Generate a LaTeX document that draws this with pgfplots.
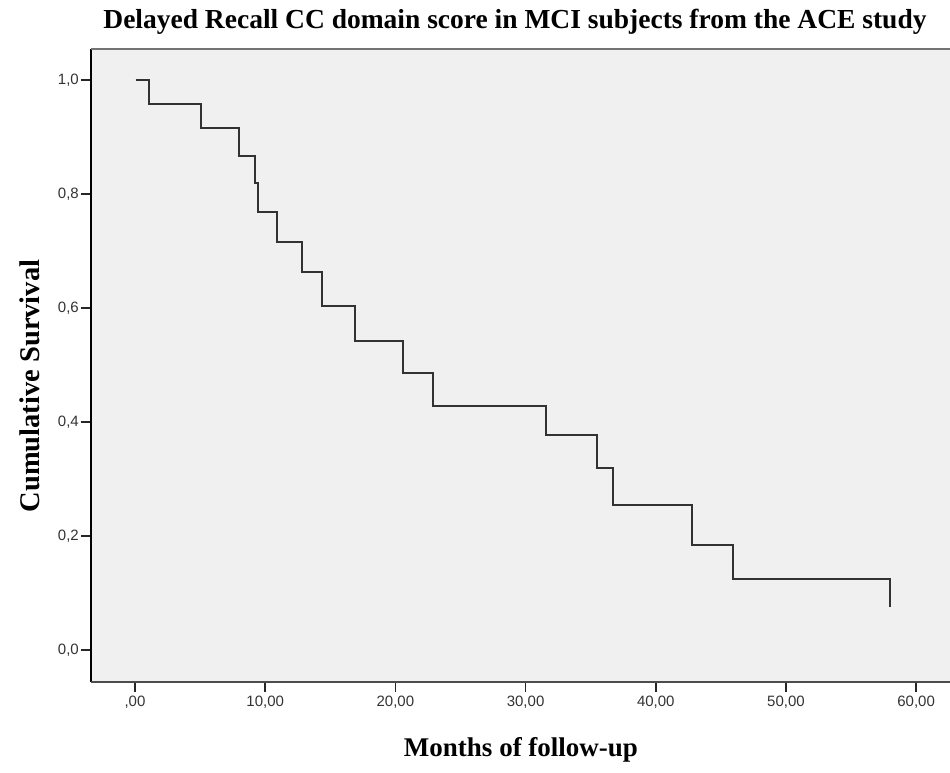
\documentclass[border=0pt]{standalone}
\usepackage{fontspec}
\setmainfont{Liberation Serif}
\newfontfamily\tickfont{Liberation Sans}
\usepackage{pgfplots}
\pgfplotsset{compat=1.18}
\definecolor{bgc}{RGB}{240,240,240}
\definecolor{curve}{RGB}{50,50,50}
\begin{document}
\begin{tikzpicture}
\useasboundingbox (0,0) rectangle (950pt,773pt);
\begin{axis}[
  at={(91pt,91pt)}, anchor=south west,
  scale only axis, width=859pt, height=633pt,
  xmin=-3.38, xmax=62.6, ymin=-0.056, ymax=1.054,
  axis background/.style={fill=bgc},
  axis line style={draw=none},
  tick align=outside, major tick length=10pt,
  xtick pos=bottom, ytick pos=left,
  tick style={black!85, line width=1.5pt},
  xtick={0,10,20,30,40,50,60},
  xticklabels={{,00},{10,00},{20,00},{30,00},{40,00},{50,00},{60,00}},
  ytick={0,0.2,0.4,0.6,0.8,1},
  yticklabels={{0,0},{0,2},{0,4},{0,6},{0,8},{1,0}},
  tick label style={font=\tickfont\fontsize{15}{15}\selectfont, text=black!80},
  yticklabel style={inner sep=2pt},
  clip=false,
]
\addplot[const plot, color=curve, line width=2pt] coordinates {
(0.04,1.0) (1.1,0.958) (5.1,0.916) (7.95,0.867) (9.18,0.819) (9.41,0.768)
(10.87,0.716) (12.79,0.663) (14.4,0.604) (16.86,0.542) (20.6,0.486)
(22.9,0.428) (31.6,0.377) (35.5,0.319) (36.75,0.254) (42.75,0.184)
(45.96,0.125) (58.0,0.075)
};
\draw[black, line width=1.8pt] (rel axis cs:0,0) -- (rel axis cs:0,1);
\draw[black!70, line width=1.8pt] (rel axis cs:0,0) -- (rel axis cs:1,0);
\draw[black!55, line width=1.8pt] (rel axis cs:0,1) -- (rel axis cs:1,1);
\end{axis}
\node[anchor=base, font=\bfseries\fontsize{27.5}{27.5}\selectfont] at (515pt,744pt) {Delayed Recall CC domain score in MCI subjects from the ACE study};
\node[anchor=base, font=\bfseries\fontsize{27}{27}\selectfont] at (521pt,16pt) {Months of follow-up};
\node[rotate=90, font=\bfseries\fontsize{28.5}{28.5}\selectfont] at (30pt,387pt) {Cumulative Survival};
\end{tikzpicture}
\end{document}
